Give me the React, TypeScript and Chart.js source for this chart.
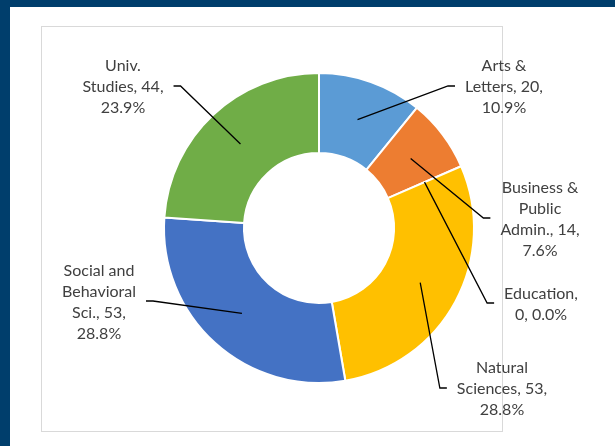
import React, { useEffect, useRef } from "react";
import { Chart, ArcElement, DoughnutController } from "chart.js";

Chart.register(ArcElement, DoughnutController);

// ---- data ----
const categories = [
  "Arts & Letters",
  "Business & Public Admin.",
  "Education",
  "Natural Sciences",
  "Social and Behavioral Sci.",
  "Univ. Studies",
];
const values = [20, 14, 0, 53, 53, 44];
// how each category name is wrapped in its data label
const nameLines = [
  ["Arts &", "Letters"],
  ["Business &", "Public", "Admin."],
  ["Education"],
  ["Natural", "Sciences"],
  ["Social and", "Behavioral", "Sci."],
  ["Univ.", "Studies"],
];
// true when the value goes on the percentage line instead of the name line
const valueWithPct = [false, false, true, false, false, false];

// ---- style / layout ----
const colors = ["#5B9BD5", "#ED7D31", "#A5A5A5", "#FFC000", "#4472C4", "#70AD47"];
// label block centre offset from donut centre (px)
const labelOffsets: [number, number][] = [
  [185, -141],
  [221, -9],
  [222, 76],
  [183, 161],
  [-220, 74],
  [-196, -141],
];
const FONT = "16px Lato";
const LINE_H = 21;
const TEXT_COLOR = "#404040";

const total = values.reduce((a, b) => a + b, 0);
const pctText = (v: number) => ((v / total) * 100).toFixed(1) + "%";

function buildLines(i: number): string[] {
  const names = nameLines[i];
  const v = values[i];
  const last = names[names.length - 1];
  const head = names.slice(0, -1);
  if (valueWithPct[i]) return [...head, last + ",", `${v}, ${pctText(v)}`];
  return [...head, `${last}, ${v},`, pctText(v)];
}

const labelPlugin = {
  id: "excelLabels",
  afterDatasetsDraw(chart: any) {
    const ctx: CanvasRenderingContext2D = chart.ctx;
    const meta = chart.getDatasetMeta(0);
    const arcs = meta.data;
    if (!arcs.length) return;
    const ox = arcs[0].x;
    const oy = arcs[0].y;
    ctx.save();
    ctx.font = FONT;
    ctx.textAlign = "center";
    ctx.textBaseline = "middle";
    arcs.forEach((arc: any, i: number) => {
      const lines = buildLines(i);
      const maxW = Math.max(...lines.map((l) => ctx.measureText(l).width));
      const cx = ox + labelOffsets[i][0];
      const cy = oy + labelOffsets[i][1];
      const top = cy - (lines.length * LINE_H) / 2;
      ctx.fillStyle = TEXT_COLOR;
      lines.forEach((l, k) => ctx.fillText(l, cx, top + LINE_H * (k + 0.5)));
      // leader line
      const p = arc.tooltipPosition(false);
      const side = labelOffsets[i][0] > 0 ? -1 : 1;
      const ax = cx + side * (maxW / 2 + 10);
      const ay = cy - 1;
      const ex = ax + side * 7;
      ctx.beginPath();
      ctx.moveTo(ax, ay);
      ctx.lineTo(ex, ay);
      ctx.lineTo(p.x, p.y);
      ctx.strokeStyle = "#000000";
      ctx.lineWidth = 1.3;
      ctx.stroke();
    });
    ctx.restore();
  },
};

export default function App() {
  const ref = useRef<HTMLCanvasElement | null>(null);
  useEffect(() => {
    if (!ref.current) return;
    const chart = new Chart(ref.current, {
      type: "doughnut",
      data: {
        labels: categories,
        datasets: [
          {
            data: values,
            backgroundColor: colors,
            borderColor: "#FFFFFF",
            borderWidth: 2,
          },
        ],
      },
      options: {
        responsive: false,
        animation: false,
        events: [],
        radius: 155,
        cutout: 77,
        layout: { padding: { left: 159, right: 136, top: 68, bottom: 58 } },
        plugins: { legend: { display: false }, tooltip: { enabled: false } },
      } as any,
      plugins: [labelPlugin],
    });
    return () => chart.destroy();
  }, []);

  return (
    <div style={{ position: "fixed", left: 0, top: 0, width: 615, height: 446, background: "#003E6C", overflow: "hidden" }}>
      <div style={{ position: "absolute", left: 10, top: 7, width: 605, height: 439, background: "#FFFFFF" }} />
      <div
        style={{
          position: "absolute",
          left: 41,
          top: 26,
          width: 460,
          height: 404,
          border: "1px solid #D9D9D9",
          background: "#FFFFFF",
        }}
      />
      <canvas ref={ref} width={615} height={446} style={{ position: "absolute", left: 0, top: 0, width: 615, height: 446 }} />
    </div>
  );
}
